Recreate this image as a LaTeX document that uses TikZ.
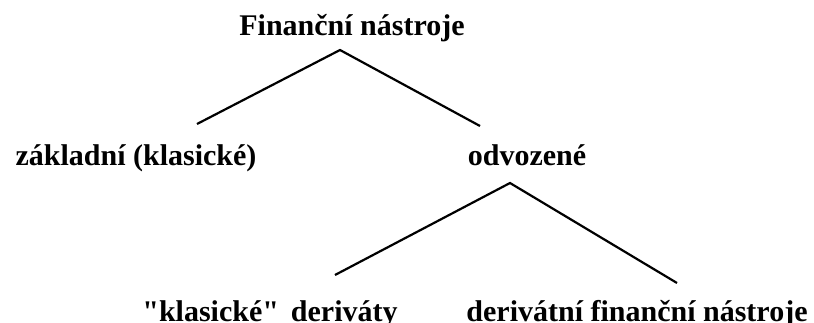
\documentclass[tikz,border=0pt]{standalone}
\usepackage{fontspec}
\setmainfont{Liberation Serif}
\begin{document}
\begin{tikzpicture}[x=1pt,y=-1pt,
  lbl/.style={font=\fontsize{30}{36}\selectfont\bfseries, inner sep=0pt, anchor=base},
  link/.style={line width=2.2pt, line join=miter}]
\useasboundingbox[fill=white] (0,0) rectangle (814,323);
\node[lbl] (root) at (352,36) {Finanční nástroje};
\node[lbl] (zak) at (136,166) {základní (klasické)};
\node[lbl] (odv) at (527,166) {odvozené};
\node[lbl] (kla) at (270,321) {\textquotedbl klasické\textquotedbl\hspace{0.4em}deriváty};
\node[lbl] (der) at (637,321) {derivátní finanční nástroje};
\coordinate (a1) at (340,50);
\coordinate (l1) at (197,124);
\coordinate (r1) at (480,126);
\coordinate (a2) at (510,183);
\coordinate (l2) at (335,275);
\coordinate (r2) at (677,283);
\draw[link] (l1) -- (a1) -- (r1);
\draw[link] (l2) -- (a2) -- (r2);
\end{tikzpicture}
\end{document}
